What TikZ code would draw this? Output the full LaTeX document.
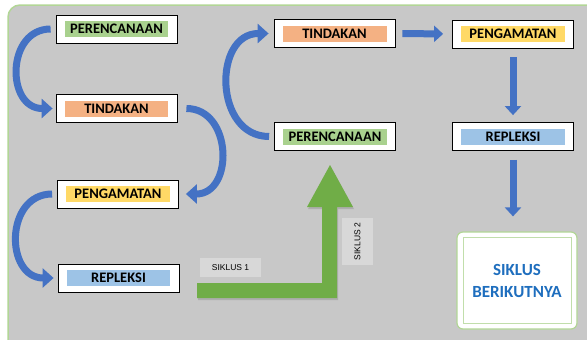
\documentclass[tikz,border=0pt]{standalone}
\usepackage{fontspec}
\setmainfont{Carlito}
\newfontfamily\smallfont{Liberation Sans}
\usetikzlibrary{arrows.meta,shadows}

\definecolor{backgray}{RGB}{200,200,200}
\definecolor{edgegreen}{RGB}{178,214,150}
\definecolor{arrowblue}{RGB}{68,114,196}
\definecolor{cyclegreen}{RGB}{112,173,71}
\definecolor{greentag}{RGB}{169,209,142}
\definecolor{orangetag}{RGB}{244,177,131}
\definecolor{yellowtag}{RGB}{255,217,102}
\definecolor{bluetag}{RGB}{157,195,230}
\definecolor{nexttext}{RGB}{30,110,190}
\definecolor{labelgray}{RGB}{216,216,216}

\newcommand{\stagetag}[2]{{\setlength{\fboxsep}{0pt}\colorbox{#1}{\parbox[c][16pt][c]{104pt}{\centering #2}}}}

\tikzset{
  stage/.style={draw=black,fill=white,line width=0.8pt,inner sep=0pt,
    minimum width=121pt,minimum height=28pt,
    font=\fontsize{14.5}{15}\selectfont\bfseries},
  bend arrow/.style={arrowblue,line width=7pt,
    -{Triangle[width=19pt,length=11pt]}},
  block arrow/.style={arrowblue,line width=7pt,
    -{Triangle[width=16pt,length=9pt]}},
  cycle label/.style={fill=labelgray,inner sep=0pt,
    font=\smallfont\fontsize{8.5}{9}\selectfont}
}

\begin{document}
\begin{tikzpicture}[x=1pt,y=-1pt]
  \useasboundingbox (0,0) rectangle (587,340);
  \filldraw[fill=backgray,draw=edgegreen,line width=1.5pt,rounded corners=12pt](8,5) rectangle (600,352);

  % first cycle
  \node[stage] (per1) at (116.5,29) {\stagetag{greentag}{PERENCANAAN}};
  \node[stage] (tin1) at (116.5,108.5) {\stagetag{orangetag}{TINDAKAN}};
  \node[stage] (pen1) at (118,194) {\stagetag{yellowtag}{PENGAMATAN}};
  \node[stage] (rep1) at (118.5,278) {\stagetag{bluetag}{REPLEKSI}};

  % second cycle
  \node[stage] (per2) at (335,136.5) {\stagetag{greentag}{PERENCANAAN}};
  \node[stage] (tin2) at (334.5,33.5) {\stagetag{orangetag}{TINDAKAN}};
  \node[stage] (pen2) at (513,34) {\stagetag{yellowtag}{PENGAMATAN}};
  \node[stage] (rep2) at (513,136.5) {\stagetag{bluetag}{REPLEKSI}};

  \node[draw=edgegreen,fill=white,line width=1.2pt,rounded corners=6pt,
    minimum width=120pt,minimum height=97pt] (next) at (517,280.5) {};
  \node[draw=edgegreen!80!white,line width=0.8pt,minimum width=108pt,minimum height=86pt,
    align=center,text=nexttext,font=\fontsize{17}{22}\selectfont\bfseries] (nexttxt) at (next) {SIKLUS\\BERIKUTNYA};

  \draw[bend arrow,shorten <=5pt,shorten >=3pt] (per1.west) to[out=180,in=180,looseness=1.6] (tin1.west);
  \draw[bend arrow,shorten <=9pt,shorten >=7pt] (tin1.east) to[out=0,in=0,looseness=1.65] (pen1.east);
  \draw[bend arrow,shorten <=5pt,shorten >=4pt] (pen1.west) to[out=180,in=180,looseness=1.6] (rep1.west);
  \draw[bend arrow,shorten <=5pt,shorten >=5pt] (per2.west) to[out=180,in=180,looseness=1.5] (tin2.west);

  \draw[block arrow,shorten <=7pt,shorten >=9pt] (tin2.east) -- (pen2.west);
  \draw[block arrow,shorten <=9pt,shorten >=7pt] (pen2.south) -- (rep2.north);
  \draw[block arrow,shorten <=9pt,shorten >=15pt] (rep2.south) -- (rep2.south |- next.north);

  % green step arrow
  \fill[cyclegreen,drop shadow={opacity=0.35,shadow xshift=1pt,shadow yshift=-2pt}]
    (197,283) -- (322,283) -- (322,207) -- (307,207) -- (330,165) -- (353,207)
    -- (337,207) -- (337,298) -- (197,298) -- cycle;
  \node[cycle label,minimum width=61pt,minimum height=19pt] (sik1) at (230.5,267.5) {SIKLUS 1};
  \node[cycle label,minimum width=47pt,minimum height=31pt,rotate=90] (sik2) at (357.5,241.5) {SIKLUS 2};
\end{tikzpicture}
\end{document}
